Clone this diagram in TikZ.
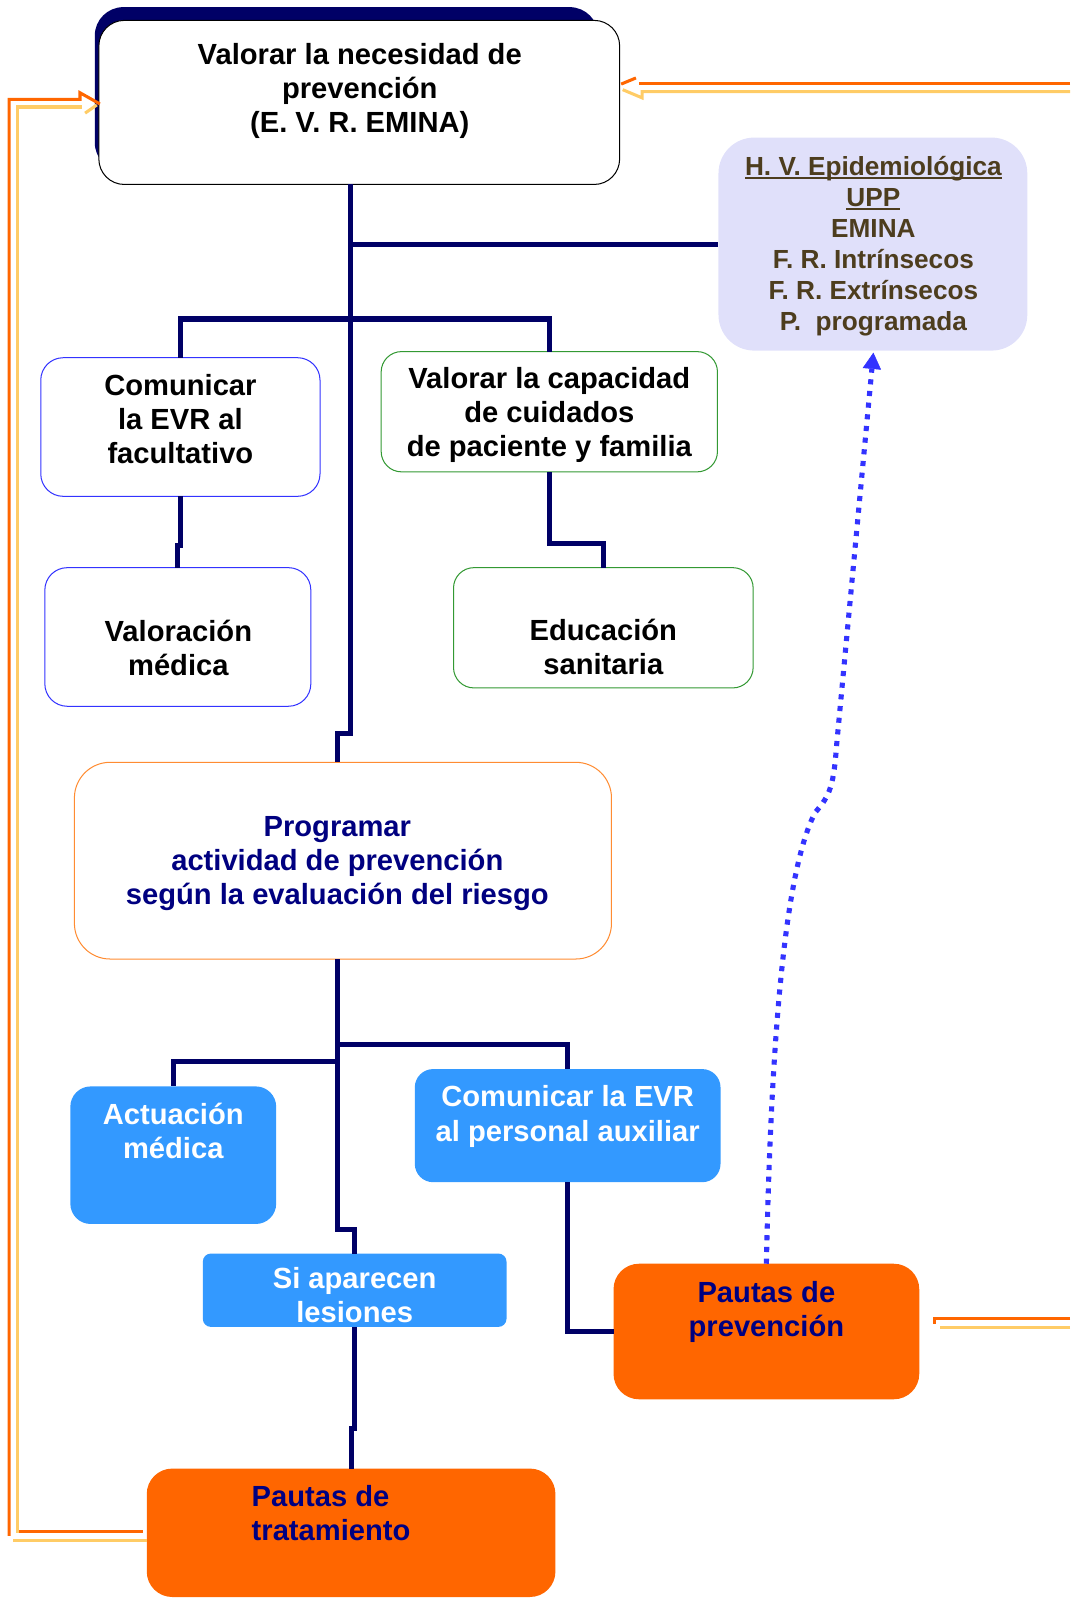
\documentclass[tikz,border=0pt]{standalone}
\usepackage{fontspec}
\setmainfont{Liberation Sans}
\usetikzlibrary{arrows.meta,calc}
\definecolor{navyl}{RGB}{0,0,102}
\definecolor{bluebd}{RGB}{51,51,255}
\definecolor{greenbd}{RGB}{51,153,51}
\definecolor{orangebd}{RGB}{255,140,50}
\definecolor{lightbl}{RGB}{51,153,255}
\definecolor{orfill}{RGB}{255,102,0}
\definecolor{txnavy}{RGB}{0,0,128}
\definecolor{hvfill}{RGB}{224,224,250}
\definecolor{hvtext}{RGB}{77,61,30}
\definecolor{dotblue}{RGB}{51,51,255}
\definecolor{orline}{RGB}{255,102,0}
\definecolor{ltline}{RGB}{255,204,102}
\newcommand\ulx[1]{\setbox0\hbox{#1}\rlap{\color{hvtext}\rule[-3.5pt]{\wd0}{2pt}}\box0}
\begin{document}
\begin{tikzpicture}[x=1pt,y=-1pt,
  every node/.style={inner sep=0pt, outer sep=0pt},
  bx/.style={rectangle, rounded corners=#1, line width=1pt},
  tx/.style={font=\bfseries\fontsize{28.6}{33.5}\selectfont, align=center},
  conn/.style={draw=navyl, line width=5pt},
  orl/.style={draw=orline, line width=3pt},
  ltl/.style={draw=ltline, line width=3pt},
  dotb/.style={draw=dotblue, line width=5pt, dash pattern=on 5pt off 6.5pt},
]
\useasboundingbox (0,0) rectangle (1050,1568);

% boxes
\node[bx=28pt, fill=navyl, minimum width=494pt, minimum height=161pt] (shadow) at (340,87.5) {};
\node[bx=25pt, draw=black, fill=white, minimum width=511pt, minimum height=161pt] (top) at (352.5,100.5) {};
\node[bx=22pt, draw=bluebd, fill=white, minimum width=274pt, minimum height=136pt] (comm) at (177,419) {};
\node[bx=22pt, draw=bluebd, fill=white, minimum width=261pt, minimum height=136pt] (valmed) at (174.5,625) {};
\node[bx=20pt, draw=greenbd, fill=white, minimum width=330pt, minimum height=118pt] (valcap) at (539,404) {};
\node[bx=20pt, draw=greenbd, fill=white, minimum width=294pt, minimum height=118pt] (edu) at (592,616) {};
\node[bx=35pt, fill=hvfill, minimum width=303pt, minimum height=209pt] (hv) at (856.5,239.5) {};
\node[bx=35pt, draw=orangebd, fill=white, minimum width=527pt, minimum height=193pt] (prog) at (336.5,844.5) {};
\node[bx=20pt, fill=lightbl, minimum width=202pt, minimum height=135pt] (act) at (170,1133.5) {};
\node[bx=18pt, fill=lightbl, minimum width=300pt, minimum height=111pt] (comevr) at (557,1104.5) {};
\node[bx=8pt, fill=lightbl, minimum width=298pt, minimum height=72pt] (si) at (348,1266) {};
\node[bx=25pt, fill=orfill, minimum width=300pt, minimum height=133pt] (pprev) at (752,1306.5) {};
\node[bx=25pt, fill=orfill, minimum width=401pt, minimum height=126pt] (ptrat) at (344.5,1504) {};

% texts
\node[tx] (toptxt) at (353,89.5) {Valorar la necesidad de\\prevención\\(E. V. R. EMINA)};
\node[tx] (commtxt) at (177,411.5) {Comunicar\\la EVR al\\facultativo};
\node[tx] (valmedtxt) at (175,636) {Valoración\\médica};
\node[tx] (valcaptxt) at (539,407.5) {Valorar la capacidad\\de cuidados\\de paciente y familia};
\node[tx] (edutxt) at (592,635) {Educación\\sanitaria};
\node[tx, font=\bfseries\fontsize{25.7}{30.3}\selectfont, text=hvtext] (hvtxt) at (857,241.5)
  {\ulx{H. V. Epidemiológica}\\\ulx{UPP}\\EMINA\\F. R. Intrínsecos\\F. R. Extrínsecos\\P.\ \ programada};
\node[tx, text=txnavy] (progtxt) at (331,847) {Programar\\actividad de prevención\\según la evaluación del riesgo};
\node[tx, text=white] (acttxt) at (170,1109.5) {Actuación\\médica};
\node[tx, text=white] (comevrtxt) at (557,1095.5) {Comunicar la EVR\\al personal auxiliar};
\node[tx, text=white] (sitxt) at (348,1271) {Si aparecen\\lesiones};
\node[tx, text=txnavy] (pprevtxt) at (752,1287) {Pautas de\\prevención};
\node[tx, text=txnavy, align=left, anchor=west] (ptrattxt) at (247,1485) {Pautas de\\tratamiento};

% navy connectors
\draw[conn] (top.south -| 344,0) -- (344,720) -- (331,720) -- (prog.north -| 331,0);
\draw[conn] (344,239.5) -- (hv.west);
\draw[conn] (comm.north) -- (177,313) -- (539,313) -- (valcap.north);
\draw[conn] (comm.south) -- (177,535) -- (174.5,535) -- (valmed.north);
\draw[conn] (valcap.south) -- (539,533) -- (592,533) -- (edu.north);
\draw[conn] (prog.south -| 331,0) -- (331,1206) -- (348,1206) -- (si.north);
\draw[conn] (331,1025) -- (557,1025) -- (comevr.north);
\draw[conn] (331,1042) -- (170,1042) -- (act.north);
\draw[conn] (comevr.south) -- (557,1306.5) -- (pprev.west);
\draw[conn] (si.south) -- (348,1402) -- (344.5,1402) -- (ptrat.north);

% dotted arrow
\draw[dotb, -{Triangle[length=16pt,width=18pt,line width=0.5pt]}] (pprev.north)
  .. controls (757,1000) and (772,850) .. (800,797)
  .. controls (815,780) and (818,770) .. (821,730) -- ($(hv.south)+(0.5,2)$);

% orange double lines (left loop)
\coordinate (lo1) at (16.5,1503);
\draw[orl] ($(ptrat.west)+(-4,-1)$) -- (lo1);
\draw[orl] (9,1507) -- (9,97.5) -- (78.5,97.5) -- (78.5,91) -- ($(top.west)+(1,1.5)$);
\draw[ltl] ($(ptrat.west)+(0,8)$) -- (13,1512);
\draw[ltl] (17.5,1504) -- (17.5,105) -- (80.5,105);
\draw[ltl] (83.5,111) -- ($(top.west)+(-2,2.5)$);

% right top
\draw[orl] (1050,81.5) -- (627,81.5);
\draw[orl] (624,76.5) -- (609.5,82.5);
\draw[ltl] (1050,90) -- (630,90) -- (630,96) -- (611,88);

% right bottom
\draw[orl] (1050,1294) -- (917,1294) -- (917,1299);
\draw[ltl] (1050,1303) -- (922,1303);
\end{tikzpicture}
\end{document}
